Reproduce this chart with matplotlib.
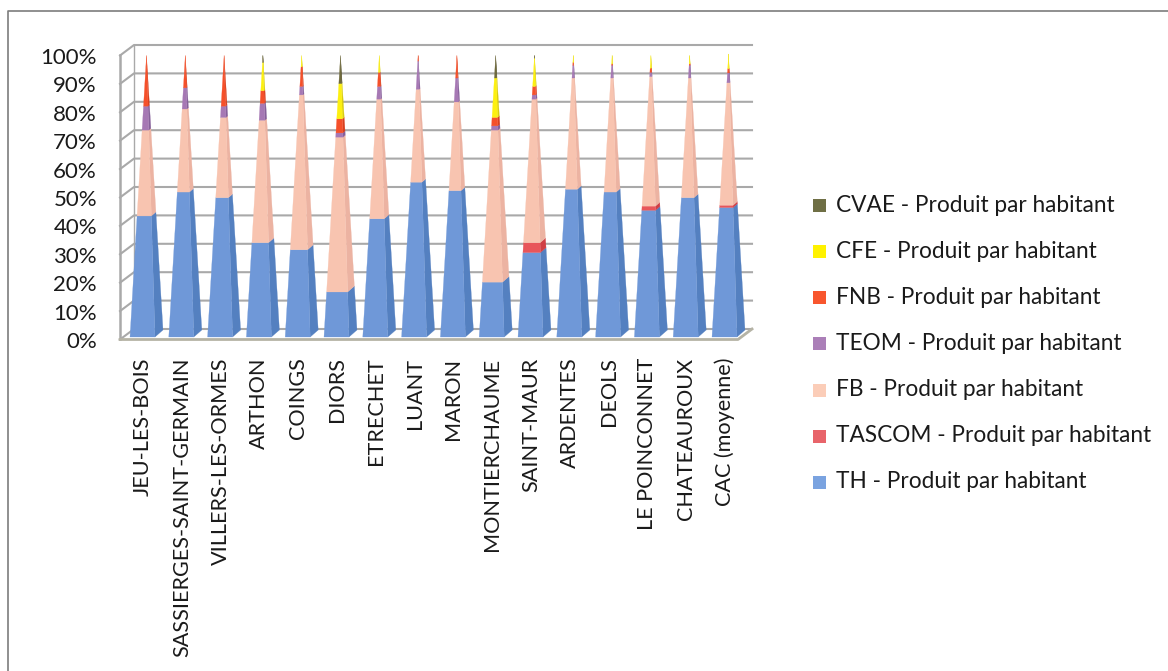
#!/usr/bin/env python3
"""Stacked 3D-looking pyramid chart: produit par habitant par commune"""

import matplotlib
matplotlib.use('Agg')
import matplotlib.pyplot as plt
from matplotlib.patches import Polygon, Rectangle

plt.rcParams['font.family'] = ['Lato', 'DejaVu Sans']

communes = ['JEU-LES-BOIS', 'SASSIERGES-SAINT-GERMAIN', 'VILLERS-LES-ORMES', 'ARTHON',
            'COINGS', 'DIORS', 'ETRECHET', 'LUANT', 'MARON', 'MONTIERCHAUME',
            'SAINT-MAUR', 'ARDENTES', 'DEOLS', 'LE POINCONNET', 'CHATEAUROUX',
            'CAC (moyenne)']

# shares in %, one list per tax
th = [43, 51.5, 49.5, 33.5, 31, 16, 42, 55, 52, 19.5, 30, 52.5, 51.5, 45, 49.5, 46]
tascom = [0, 0, 0, 0, 0, 0, 0, 0, 0, 0, 3.5, 0, 0, 1.5, 0, 0.8]
fb = [30.5, 29.5, 28.5, 43.5, 55, 55, 42.5, 33, 31.5, 54, 51, 39.5, 40.5, 46, 42.5, 43.5]
teom = [8.5, 7.5, 4, 6, 3, 1.5, 4.5, 10, 8.5, 1.5, 1.5, 4.5, 4.5, 1.5, 4.5, 3.5]
fnb = [18, 11.5, 18, 4.5, 7, 5, 5, 2, 8, 3, 3, 1, 0.5, 1.5, 0.5, 1.5]
cfe = [0, 0, 0, 10, 4, 12.5, 6, 0, 0, 14, 10, 2.5, 3, 4.5, 3, 5.2]
cvae = [0, 0, 0, 2.5, 0, 10, 0, 0, 0, 8, 1, 0, 0, 0, 0, 0]

series_names = ['TH', 'TASCOM', 'FB', 'TEOM', 'FNB', 'CFE', 'CVAE']
series_values = [th, tascom, fb, teom, fnb, cfe, cvae]
front_colors = ['#6f98d8', '#e8555a', '#f8c4b0', '#a678b4', '#f5502a', '#fdf010', '#6f6a3c']
side_colors = ['#5480c0', '#d03f45', '#ecb3a2', '#86609a', '#d8401f', '#d8cc10', '#55502c']
legend_colors = ['#7aa3e0', '#e8646a', '#fbcdb8', '#ab7fb8', '#f8562e', '#fff200', '#6f6f45']
percent_ticks = list(range(0, 101, 10))

# one category = 38.8 px, one percent = 2.84 px
PX_X = 38.8
PX_Y = 2.84
fig = plt.figure(figsize=(11.68, 6.71), dpi=100, facecolor='white')

# main axes: x = category index, y = percent on the back wall
# category 0 sits at x=146.5 px, 0% at y=329 px
x_left = -146.5 / PX_X
x_right = (1168 - 146.5) / PX_X
y_bottom = -(671 - 329) / PX_Y
y_top = 329 / PX_Y
ax = fig.add_axes([0, 0, 1, 1])
ax.set_xlim(x_left, x_right)
ax.set_ylim(y_bottom, y_top)
ax.axis('off')

# depth offset of the front edge of the walls
dep_x = -14 / PX_X
dep_y = -10.5 / PX_Y
wall_left = -12.5 / PX_X
wall_right = 605.5 / PX_X
grid_col = '#a9a9a9'

# page border from the scan, only top and left show
border_x = x_left + 8 / PX_X
border_y = y_top - 10.7 / PX_Y
ax.plot([border_x, border_x, x_right], [y_bottom, border_y, border_y], color='#7d7d7d', lw=1.2, zorder=1)

for p in percent_ticks:
    ax.plot([wall_left + dep_x, wall_left, wall_right], [p + dep_y, p, p],
            color=grid_col, lw=1.5, zorder=2)
ax.plot([wall_left, wall_left], [0, 100], color=grid_col, lw=1.0, zorder=2)
ax.plot([wall_left + dep_x, wall_left + dep_x], [dep_y, 100 + dep_y], color=grid_col, lw=1.8, zorder=2)
ax.plot([wall_left + dep_x, wall_right + dep_x, wall_right],
        [dep_y, dep_y, 0], color='#b5b3a5', lw=2, zorder=2)

# pyramid base corners, relative to the centre of the base
fl = (-16.5 / PX_X, -3.5 / PX_Y)
fr = (8.5 / PX_X, -3.5 / PX_Y)
br = (16.5 / PX_X, 3.5 / PX_Y)
base_y = -4.5 / PX_Y
height = 278 / PX_Y


def corner(i, c, share):
    """Point on a pyramid edge at a given share of the height"""
    t = share / 100
    return (i + c[0] * (1 - t), base_y + c[1] * (1 - t) + height * t)


for i in range(len(communes)):
    low = 0
    for vals, fc, sc in zip(series_values, front_colors, side_colors):
        high = low + vals[i]
        if vals[i] > 0:
            ax.add_patch(Polygon([corner(i, br, low), corner(i, br, high),
                                  corner(i, fr, high), corner(i, fr, low)],
                                 fc=sc, ec=sc, lw=0.2, zorder=3))
            ax.add_patch(Polygon([corner(i, fl, low), corner(i, fr, low),
                                  corner(i, fr, high), corner(i, fl, high)],
                                 fc=fc, ec=fc, lw=0.2, zorder=4))
        low = high

# axis labels
for p in percent_ticks:
    ax.text(wall_left + dep_x - 23 / PX_X, p + dep_y - 0.9, f'{p}%', ha='right', va='center',
            fontsize=16, color='#1a1a1a', zorder=5)
for i, name in enumerate(communes):
    ax.text(i - 3.5 / PX_X, dep_y - 18 / PX_Y, name, rotation=90, ha='center', va='top',
            fontsize=15.6, color='#1a1a1a', zorder=5)

# legend, top entry is the last series
leg_x = (813 - 146.5) / PX_X
leg_top = (329 - 206) / PX_Y
leg_step = 46 / PX_Y
for n, (name, col) in enumerate(zip(series_names[::-1], legend_colors[::-1])):
    y = leg_top - n * leg_step
    ax.add_patch(Rectangle((leg_x, y - 6.5 / PX_Y), 13 / PX_X, 13 / PX_Y, fc=col, ec='none', zorder=5))
    ax.text(leg_x + 23 / PX_X, y, f'{name} - Produit par habitant', ha='left', va='center',
            fontsize=16.3, color='#1a1a1a', zorder=5)

fig.savefig('out.png', dpi=100, facecolor=fig.get_facecolor())
plt.close(fig)
